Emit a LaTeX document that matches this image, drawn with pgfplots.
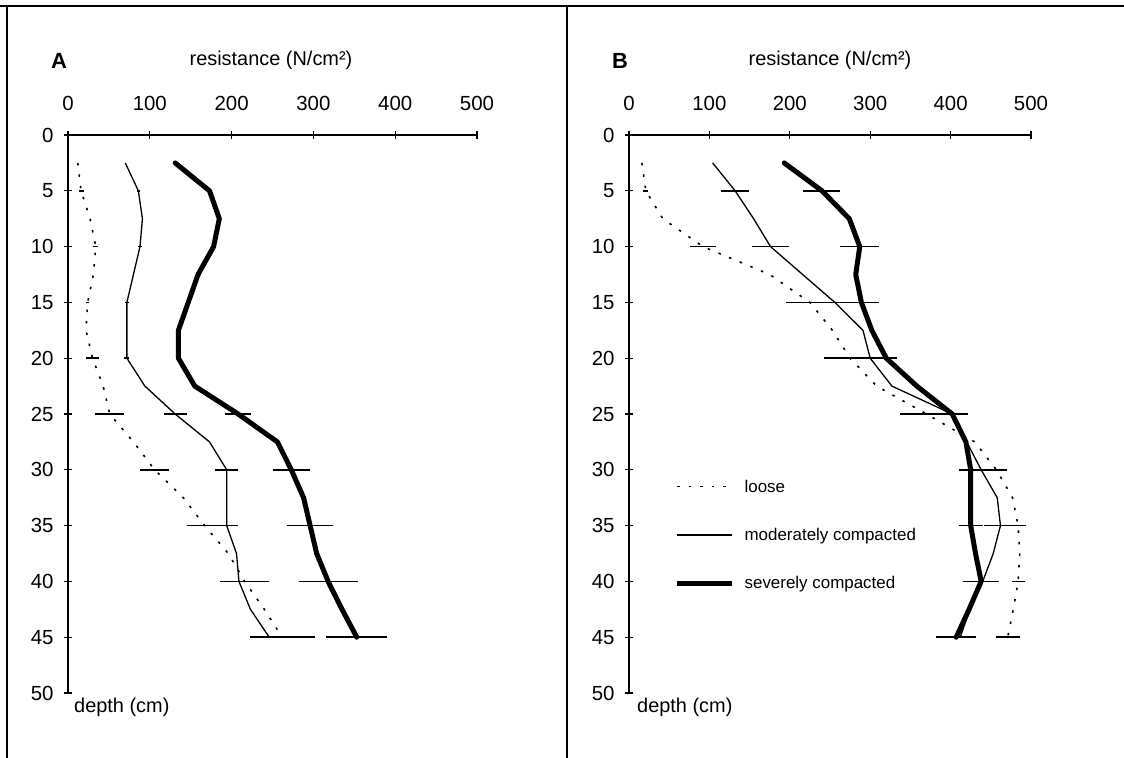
\documentclass[border=0pt]{standalone}
\usepackage{fontspec}
\setmainfont{Liberation Sans}
\usepackage{pgfplots}
\pgfplotsset{compat=1.18}
\pgfplotsset{
  prof/.style={
    scale only axis, height=558bp,
    xmin=0, xmax=500, ymin=0, ymax=50, y dir=reverse,
    axis x line=top, axis y line=left,
    axis line style={-, line width=1.3bp, black},
    xtick={0,100,...,500}, ytick={0,5,...,50},
    tick align=center, major tick length=8bp,
    tick style={line width=1.2bp, black},
    /pgf/number format/assume math mode=true,
    ticklabel style={font=\fontsize{20.5}{23}\selectfont},
    xticklabel style={yshift=17bp},
    yticklabel style={xshift=-7bp},
    clip=false,
  },
  loose/.style={black, line width=1.6bp, dash pattern=on 2.5bp off 9bp},
  moder/.style={black, line width=1.3bp},
  severe/.style={black, line width=5bp, line join=round, line cap=round},
  eb/.style={draw=none, mark=none, forget plot,
    error bars/.cd, x dir=both, x explicit, error mark=none,
    error bar style={draw=black, line width=1.6bp, solid}},
}
\begin{document}
\begin{tikzpicture}
\useasboundingbox (0bp,0bp) rectangle (1124bp,-758bp);
\draw[line width=1.6bp] (0bp,-6bp) -- (1124bp,-6bp);
\draw[line width=1.6bp] (7bp,-6bp) -- (7bp,-758bp);
\draw[line width=2.6bp] (567bp,-6bp) -- (567bp,-758bp);

% ---------------- Panel A ----------------
\begin{axis}[prof, width=409bp, at={(68bp,-135bp)}, anchor=north west]
\addplot[loose] coordinates {
(12,2.5) (16,5) (27,7.5) (34,10) (31,12.5) (24,15) (22,17.5) (30,20) (43,22.5)
(51,25) (80,27.5) (106,30) (141,32.5) (167,35) (196,37.5) (216,40) (240,42.5) (262,45)};
\addplot[moder] coordinates {
(70,2.5) (86,5) (91,7.5) (88,10) (80,12.5) (72,15) (72,17.5) (72,20) (94,22.5)
(131,25) (173,27.5) (194,30) (194,32.5) (194,35) (206,37.5) (209,40) (223,42.5) (246,45)};
\addplot[severe] coordinates {
(131,2.5) (173,5) (185,7.5) (178,10) (159,12.5) (147,15) (135,17.5) (135,20) (155,22.5)
(208,25) (256,27.5) (273,30) (288,32.5) (296,35) (304,37.5) (318,40) (335,42.5) (353,45)};
\addplot[eb] coordinates {
(16,5) +- (3,0) (34,10) +- (3,0) (24,15) +- (2,0) (30,20) +- (8,0) (51,25) +- (18,0)
(106,30) +- (18,0) (167,35) +- (22,0) (216,40) +- (30,0) (262,45) +- (40,0)};
\addplot[eb] coordinates {
(86,5) +- (2,0) (88,10) +- (2,0) (72,15) +- (2,0) (72,20) +- (3,0) (131,25) +- (14,0)
(194,30) +- (14,0) (194,35) +- (14,0) (209,40) +- (10,0) (246,45) +- (20,0)};
\addplot[eb] coordinates {
(173,5) +- (3,0) (178,10) +- (3,0) (147,15) +- (3,0) (135,20) +- (3,0) (208,25) +- (16,0)
(273,30) +- (23,0) (296,35) +- (28,0) (318,40) +- (36,0) (353,45) +- (37,0)};
\end{axis}

% ---------------- Panel B ----------------
\begin{axis}[prof, width=402bp, at={(629bp,-135bp)}, anchor=north west,
  legend style={at={(0.113,0.386)}, anchor=north west, draw=none, fill=none,
    font=\fontsize{17}{20}\selectfont, row sep=30.5bp, column sep=8bp, inner sep=0pt},
  legend cell align=left,
  legend image code/.code={\draw[#1, line cap=butt] (0bp,0bp) -- (55bp,0bp);}]
\addplot[loose] coordinates {
(16,2.5) (21,5) (42,7.5) (92,10) (175,12.5) (225,15) (253,17.5) (275,20) (308,22.5)
(370,25) (430,27.5) (457,30) (477,32.5) (484,35) (486,37.5) (484,40) (478,42.5) (471,45)};
\addlegendentry{loose}
\addplot[moder] coordinates {
(104,2.5) (132,5) (155,7.5) (176,10) (216,12.5) (256,15) (291,17.5) (300,20) (327,22.5)
(402,25) (420,27.5) (438,30) (458,32.5) (462,35) (453,37.5) (440,40) (424,42.5) (412,45)};
\addlegendentry{moderately compacted}
\addplot[severe] coordinates {
(193,2.5) (240,5) (274,7.5) (287,10) (282,12.5) (289,15) (302,17.5) (320,20) (358,22.5)
(402,25) (419,27.5) (425,30) (425,32.5) (425,35) (431,37.5) (438,40) (423,42.5) (407,45)};
\addlegendentry{severely compacted}
\addplot[eb] coordinates {
(21,5) +- (3,0) (92,10) +- (16,0) (225,15) +- (30,0) (275,20) +- (33,0) (370,25) +- (33,0)
(457,30) +- (13,0) (484,35) +- (10,0) (484,40) +- (8,0) (471,45) +- (15,0)};
\addplot[eb] coordinates {
(132,5) +- (17,0) (176,10) +- (23,0) (256,15) +- (25,0) (300,20) +- (20,0) (402,25) +- (20,0)
(438,30) +- (15,0) (462,35) +- (20,0) (440,40) +- (10,0) (412,45) +- (12,0)};
\addplot[eb] coordinates {
(240,5) +- (23,0) (287,10) +- (24,0) (289,15) +- (22,0) (320,20) +- (13,0) (402,25) +- (20,0)
(425,30) +- (15,0) (425,35) +- (15,0) (438,40) +- (22,0) (407,45) +- (25,0)};
\end{axis}

\node[font=\fontsize{20}{23}\selectfont] at (271bp,-60bp) {resistance (N/cm²)};
\node[font=\fontsize{20}{23}\selectfont] at (830bp,-60bp) {resistance (N/cm²)};
\node[font=\bfseries\fontsize{22}{25}\selectfont] at (59bp,-61bp) {A};
\node[font=\bfseries\fontsize{22}{25}\selectfont] at (620bp,-61bp) {B};
\node[font=\fontsize{20}{23}\selectfont, anchor=west, inner sep=0pt] at (74bp,-707bp) {depth (cm)};
\node[font=\fontsize{20}{23}\selectfont, anchor=west, inner sep=0pt] at (637bp,-707bp) {depth (cm)};
\end{tikzpicture}
\end{document}
